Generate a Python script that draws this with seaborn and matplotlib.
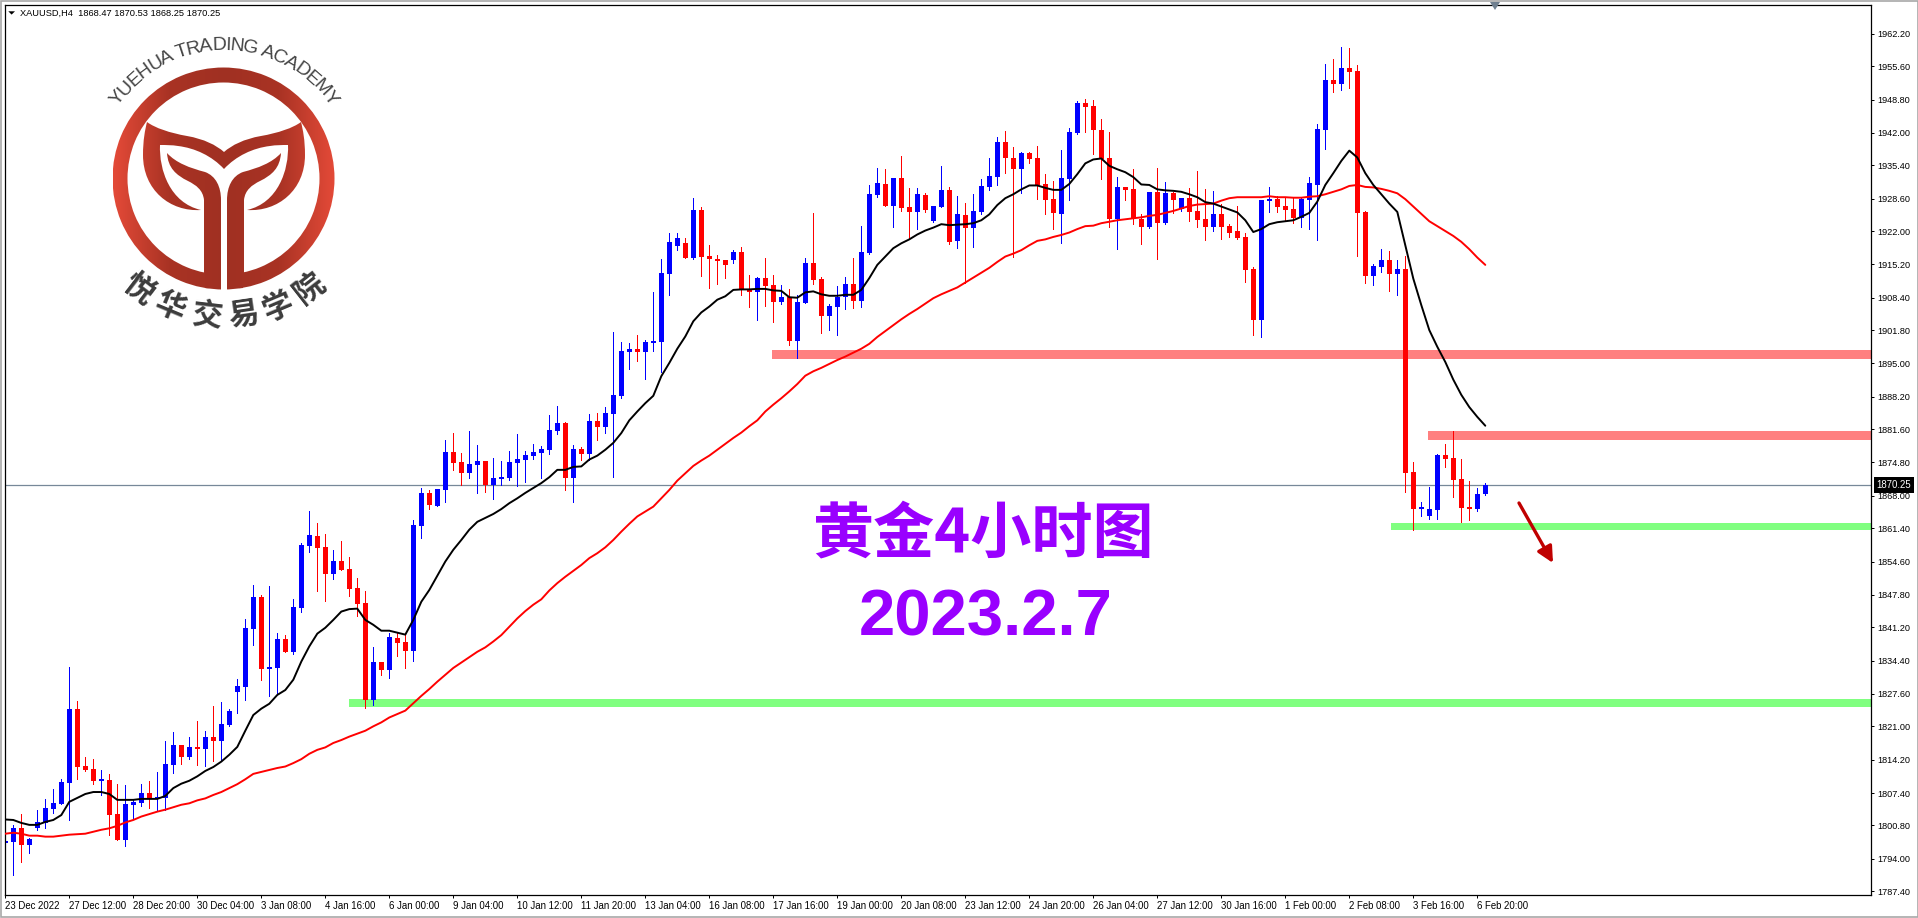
import numpy as np
import pandas as pd
import seaborn as sns
import matplotlib
matplotlib.use('Agg')
import matplotlib.pyplot as plt
from matplotlib.colors import LinearSegmentedColormap
from matplotlib.patches import PathPatch, Polygon, Rectangle, Wedge
from matplotlib.path import Path
from matplotlib.textpath import TextToPath
from matplotlib.font_manager import FontProperties

# XAUUSD H4 bars, prices
highs = [1799.4,1800.9,1803.1,1798.2,1804.0,1806.2,1808.2,1810.3,1833.1,1826.2,
         1814.8,1814.4,1812.1,1811.3,1809.3,1809.1,1806.0,1809.3,1809.9,1811.7,
         1818.0,1819.9,1817.2,1818.9,1822.1,1820.1,1825.2,1826.0,1824.6,1830.7,
         1842.9,1849.9,1847.8,1849.7,1840.1,1839.7,1847.0,1858.4,1865.0,1862.5,
         1860.3,1857.0,1858.8,1855.6,1851.3,1848.6,1837.2,1834.2,1840.1,1840.3,
         1839.7,1863.1,1869.6,1869.2,1869.4,1879.4,1880.9,1876.8,1881.3,1878.4,
         1875.2,1875.8,1875.2,1877.2,1880.7,1877.2,1878.6,1878.2,1884.5,1886.4,
         1883.1,1878.4,1878.0,1884.7,1884.9,1886.2,1901.5,1899.4,1899.2,1900.9,
         1899.8,1909.6,1916.4,1921.7,1921.5,1920.6,1928.8,1927.0,1919.2,1917.2,
         1916.0,1918.2,1918.8,1913.1,1912.7,1916.6,1913.1,1910.9,1910.2,1909.0,
         1916.6,1925.7,1912.7,1907.2,1910.7,1912.7,1916.6,1923.1,1931.3,1934.9,
         1934.6,1932.8,1937.3,1930.8,1930.8,1929.7,1927.1,1935.3,1931.0,1929.1,
         1927.7,1929.5,1932.6,1936.9,1941.2,1942.4,1939.1,1938.1,1938.1,1939.3,
         1933.6,1932.2,1938.5,1943.0,1948.5,1948.9,1948.7,1944.8,1942.2,1933.0,
         1931.0,1934.6,1925.5,1930.0,1934.8,1932.0,1930.0,1928.7,1930.8,1934.2,
         1930.6,1930.2,1927.5,1923.4,1927.1,1921.6,1914.7,1928.3,1931.0,1929.1,
         1928.7,1928.7,1928.7,1933.0,1943.8,1956.1,1957.1,1959.5,1959.3,1955.9,
         1926.1,1915.3,1918.3,1917.9,1916.1,1916.9,1875.0,1866.8,1869.9,1876.6,
         1878.6,1881.3,1875.6,1871.1,1869.6,1870.53]
body_top = [1797.7,1800.3,1800.3,1798.0,1801.5,1804.4,1805.4,1809.7,1824.6,1824.6,
            1812.9,1812.3,1810.3,1810.1,1803.1,1805.2,1805.6,1807.4,1807.4,1806.6,
            1813.3,1817.2,1817.2,1816.8,1816.8,1818.9,1818.9,1821.5,1824.2,1829.3,
            1841.1,1847.4,1847.4,1833.1,1838.8,1838.8,1845.4,1858.0,1860.1,1859.9,
            1857.6,1854.8,1854.8,1853.1,1849.2,1846.2,1834.2,1834.2,1839.3,1839.0,
            1838.2,1862.1,1868.6,1868.6,1869.4,1877.0,1877.0,1875.0,1874.5,1875.2,
            1875.2,1871.7,1871.9,1875.0,1875.6,1876.4,1877.0,1877.6,1881.5,1882.9,
            1882.9,1877.6,1877.6,1883.3,1883.3,1884.9,1888.6,1897.6,1898.0,1898.0,
            1899.4,1899.6,1913.5,1919.8,1920.6,1919.6,1926.2,1926.2,1917.0,1916.4,
            1916.0,1917.8,1917.8,1910.0,1912.5,1912.5,1910.9,1908.6,1908.6,1907.6,
            1915.5,1915.5,1912.3,1906.8,1908.6,1911.3,1911.3,1917.8,1929.6,1931.7,
            1931.6,1932.8,1932.8,1926.9,1929.5,1929.3,1927.1,1930.4,1930.4,1925.5,
            1925.3,1926.1,1931.2,1933.2,1940.2,1940.2,1936.9,1937.9,1937.9,1936.9,
            1931.6,1928.5,1932.8,1942.2,1948.1,1948.1,1947.5,1942.6,1936.9,1931.0,
            1931.0,1930.6,1924.4,1930.0,1930.0,1929.7,1929.7,1928.7,1928.7,1926.1,
            1924.4,1925.5,1925.5,1923.0,1922.0,1920.8,1914.2,1928.3,1928.5,1928.5,
            1927.1,1926.5,1928.5,1931.8,1942.8,1952.8,1952.8,1955.2,1955.2,1954.6,
            1925.9,1914.9,1916.1,1916.1,1914.2,1914.2,1872.9,1865.8,1865.4,1876.4,
            1876.4,1875.8,1871.5,1865.8,1868.4,1870.25]
body_bot = [1797.2,1797.4,1796.8,1796.8,1800.3,1801.3,1804.2,1805.2,1809.5,1812.7,
            1812.1,1809.9,1809.9,1802.9,1797.8,1797.8,1805.0,1805.4,1806.2,1806.2,
            1806.4,1813.1,1814.8,1814.8,1816.4,1816.4,1818.0,1818.0,1821.3,1828.0,
            1829.1,1840.9,1832.7,1832.7,1832.9,1836.2,1836.2,1845.2,1857.8,1857.4,
            1852.1,1852.1,1852.9,1849.0,1846.0,1826.4,1826.4,1832.5,1832.5,1838.0,
            1836.4,1836.4,1861.9,1866.2,1866.0,1869.2,1874.7,1872.7,1872.7,1874.3,
            1870.3,1870.3,1871.5,1871.7,1874.7,1875.4,1876.2,1876.8,1877.4,1881.3,
            1871.7,1871.7,1876.6,1876.6,1882.1,1882.1,1884.7,1888.4,1897.4,1897.4,
            1897.4,1899.2,1899.4,1913.3,1919.0,1916.6,1916.6,1916.8,1916.2,1915.8,
            1915.1,1916.0,1910.0,1909.6,1909.6,1910.7,1907.6,1907.6,1899.6,1899.6,
            1907.4,1912.1,1904.7,1904.7,1906.6,1908.6,1907.8,1907.8,1917.6,1929.4,
            1927.1,1927.1,1926.7,1925.9,1925.9,1926.3,1924.0,1926.9,1919.8,1920.0,
            1922.6,1922.6,1925.9,1931.0,1933.0,1936.9,1934.6,1934.6,1936.7,1931.4,
            1928.3,1925.7,1925.5,1932.6,1942.0,1947.3,1942.6,1936.7,1924.4,1924.4,
            1930.4,1924.4,1922.8,1922.8,1923.6,1923.6,1928.3,1926.5,1925.9,1924.2,
            1922.8,1922.8,1922.8,1921.6,1920.6,1914.0,1903.8,1903.8,1928.1,1926.9,
            1926.3,1924.6,1924.6,1928.3,1931.4,1942.6,1952.0,1952.0,1954.4,1925.7,
            1912.8,1912.8,1914.7,1913.2,1913.2,1872.7,1865.4,1865.4,1863.9,1865.2,
            1875.6,1871.3,1865.6,1865.4,1865.4,1868.47]
lows = [1794.8,1790.7,1793.4,1795.2,1799.9,1800.3,1803.3,1805.2,1801.9,1810.3,
        1811.9,1809.3,1807.0,1798.9,1797.8,1796.6,1802.3,1804.8,1804.4,1804.0,
        1804.0,1811.5,1813.3,1814.4,1813.1,1812.9,1814.0,1814.0,1821.1,1823.7,
        1826.4,1837.6,1830.5,1827.2,1827.8,1836.2,1835.8,1844.4,1856.6,1848.6,
        1846.6,1851.1,1852.9,1847.6,1843.5,1824.8,1825.4,1831.5,1830.9,1835.4,
        1832.9,1834.4,1859.4,1865.4,1866.0,1866.8,1873.3,1870.3,1871.7,1868.6,
        1868.8,1867.4,1870.3,1871.3,1870.1,1870.9,1875.6,1871.6,1876.6,1880.7,
        1869.2,1866.8,1875.4,1875.4,1879.4,1880.9,1871.9,1888.0,1893.9,1895.6,
        1891.9,1897.6,1893.3,1909.0,1918.2,1916.6,1916.4,1912.9,1910.4,1911.1,
        1912.5,1915.5,1909.0,1906.6,1903.9,1906.8,1903.5,1907.2,1898.8,1896.2,
        1907.4,1911.1,1901.3,1901.9,1900.7,1906.2,1906.4,1906.6,1917.4,1929.0,
        1927.1,1922.8,1926.1,1920.4,1922.4,1925.9,1923.8,1926.9,1919.3,1918.5,
        1911.4,1918.7,1925.5,1930.4,1931.4,1933.8,1916.7,1929.7,1935.9,1928.5,
        1925.5,1922.4,1919.5,1928.3,1941.8,1942.2,1937.7,1932.6,1922.8,1918.3,
        1928.3,1923.4,1919.3,1922.6,1916.3,1923.4,1925.7,1926.1,1924.0,1922.8,
        1920.2,1922.0,1920.4,1920.8,1920.4,1911.6,1900.8,1900.4,1925.9,1925.9,
        1924.2,1923.6,1922.8,1922.4,1920.2,1938.7,1950.4,1950.8,1951.2,1916.9,
        1911.4,1911.0,1913.6,1909.8,1908.9,1868.8,1861.1,1863.9,1863.3,1863.3,
        1873.9,1867.8,1862.7,1863.1,1865.0,1868.25]
# u = close above open (blue), d = close below open (red)
direction = ('uuduuuuuud' 'ddudduuudu' 'uudududuuu' 'uuduuduuud' 'duddddudud'
             'duuduudduu' 'duuuuuuuuu' 'dududuuuud' 'uuuuududdd' 'dudduddudu'
             'udduuuduuu' 'dudduduudu' 'duuuuddudd' 'dduuuddddu' 'dddudududd'
             'duddddduud' 'dduuuududd' 'duududduuu' 'dddduu')

ma_fast = [1802.0,1801.9,1801.3,1800.9,1800.9,1801.5,1801.9,1802.9,1805.6,1806.4,
           1807.2,1807.6,1807.6,1807.2,1806.0,1806.0,1806.0,1806.2,1806.2,1806.2,
           1806.8,1808.4,1809.3,1809.9,1810.8,1811.9,1812.7,1813.8,1815.2,1816.8,
           1820.1,1823.3,1824.6,1825.6,1827.4,1828.4,1830.5,1834.2,1837.3,1839.9,
           1841.1,1842.7,1844.4,1844.9,1845.0,1842.7,1841.7,1840.5,1840.5,1840.1,
           1839.7,1842.7,1846.4,1848.8,1851.7,1854.6,1857.0,1859.0,1861.1,1862.7,
           1863.5,1864.3,1865.3,1866.5,1867.5,1868.6,1869.6,1870.6,1871.8,1873.3,
           1873.3,1873.9,1874.0,1875.4,1876.2,1877.4,1878.8,1880.8,1883.4,1885.2,
           1886.9,1888.4,1892.4,1895.1,1898.0,1900.5,1903.6,1905.4,1906.6,1908.0,
           1908.7,1910.0,1910.1,1910.1,1910.2,1910.2,1909.9,1909.8,1908.5,1908.4,
           1909.5,1909.7,1909.1,1908.8,1908.8,1909.0,1909.0,1910.0,1912.4,1915.1,
           1916.8,1918.5,1919.5,1920.3,1921.3,1922.1,1922.7,1923.4,1923.2,1923.3,
           1923.4,1923.6,1924.2,1925.4,1927.3,1928.7,1929.5,1930.5,1931.3,1931.3,
           1930.8,1930.4,1930.4,1931.6,1933.6,1935.8,1936.6,1936.8,1935.3,1934.6,
           1934.0,1933.0,1931.5,1931.4,1930.5,1930.3,1930.2,1930.0,1929.5,1928.9,
           1927.9,1927.6,1927.0,1926.4,1925.8,1924.2,1921.8,1922.4,1923.4,1923.8,
           1924.0,1924.2,1924.9,1925.7,1928.0,1931.4,1933.8,1936.3,1938.4,1937.0,
           1933.8,1931.4,1929.5,1927.6,1925.9,1919.1,1912.3,1906.9,1901.8,1898.4,
           1895.3,1891.7,1888.6,1886.1,1884.1,1882.3]
ma_slow = [1799.1,1799.3,1799.1,1798.7,1798.7,1798.5,1798.5,1798.7,1798.9,1799.0,
           1799.1,1799.5,1799.9,1800.2,1800.7,1801.4,1801.9,1802.6,1803.1,1803.6,
           1804.0,1804.5,1805.0,1805.3,1805.9,1806.3,1807.0,1807.6,1808.4,1809.2,
           1810.2,1811.3,1811.7,1812.1,1812.5,1812.8,1813.5,1814.3,1815.4,1816.2,
           1816.7,1817.6,1818.2,1818.9,1819.5,1820.1,1821.0,1821.8,1822.8,1823.5,
           1824.2,1825.7,1827.2,1828.6,1830.1,1831.5,1832.9,1834.0,1835.1,1836.2,
           1837.1,1838.3,1839.6,1841.3,1843.0,1844.5,1845.8,1846.9,1848.7,1850.2,
           1851.5,1852.7,1853.9,1855.3,1856.3,1857.5,1859.0,1860.7,1862.3,1863.8,
           1864.8,1865.8,1867.5,1869.2,1871.1,1872.6,1874.1,1875.2,1876.2,1877.4,
           1878.6,1879.8,1880.9,1882.2,1883.4,1885.2,1886.6,1887.9,1889.3,1890.8,
           1892.5,1893.4,1894.1,1894.9,1895.7,1896.4,1897.2,1898.0,1899.0,1900.4,
           1901.6,1902.8,1904.0,1905.1,1906.1,1907.2,1908.3,1909.1,1909.8,1910.5,
           1911.5,1912.5,1913.5,1914.5,1915.7,1916.8,1917.4,1918.1,1919.1,1920.0,
           1920.3,1920.8,1921.2,1921.7,1922.4,1923.0,1923.1,1923.6,1923.9,1924.2,
           1924.4,1924.6,1924.8,1925.1,1925.3,1925.7,1926.1,1926.6,1927.1,1927.4,
           1927.5,1927.6,1928.2,1928.7,1928.9,1928.9,1928.9,1928.9,1929.1,1928.9,
           1928.9,1928.8,1928.8,1929.0,1929.1,1929.5,1930.0,1930.5,1931.2,1931.4,
           1931.0,1930.9,1930.6,1930.2,1929.7,1928.5,1927.0,1925.5,1924.0,1923.0,
           1922.0,1921.0,1919.8,1918.3,1916.6,1915.1]

price_labels = ['1962.20','1955.60','1948.80','1942.00','1935.40','1928.60','1922.00',
                '1915.20','1908.40','1901.80','1895.00','1888.20','1881.60','1874.80',
                '1868.00','1861.40','1854.60','1847.80','1841.20','1834.40','1827.60',
                '1821.00','1814.20','1807.40','1800.80','1794.00','1787.40']
time_labels = ['23 Dec 2022','27 Dec 12:00','28 Dec 20:00','30 Dec 04:00','3 Jan 08:00',
               '4 Jan 16:00','6 Jan 00:00','9 Jan 04:00','10 Jan 12:00','11 Jan 20:00',
               '13 Jan 04:00','16 Jan 08:00','17 Jan 16:00','19 Jan 00:00','20 Jan 08:00',
               '23 Jan 12:00','24 Jan 20:00','26 Jan 04:00','27 Jan 12:00','30 Jan 16:00',
               '1 Feb 00:00','2 Feb 08:00','3 Feb 16:00','6 Feb 20:00']
last_price = 1870.25

# horizontal levels drawn on the chart: first bar, low, high, colour
zone_start = [95.8, 177.8, 173.2, 43.0]
zone_low = [1895.9, 1879.4, 1861.1, 1825.0]
zone_high = [1897.8, 1881.25, 1862.5, 1826.6]
zone_color = ['#ff8080', '#ff8080', '#80ff80', '#80ff80']

up = np.array([c == 'u' for c in direction])
df = pd.DataFrame({'bar': np.arange(len(highs)), 'high': highs, 'low': lows,
                   'top': body_top, 'bot': body_bot, 'fast': ma_fast, 'slow': ma_slow})
df['color'] = np.where(up, '#0000ff', '#ff0000')

sns.set_style('white')
plt.rcParams['font.family'] = ['Liberation Sans', 'DejaVu Sans']

W, H = 1918, 918
fig = plt.figure(figsize=(W / 100, H / 100), dpi=100, facecolor='white')
ax = fig.add_axes([4.5 / W, 1 - 895 / H, 1866 / W, 890.5 / H])
x_max = 233.15
ax.set_xlim(-0.1, x_max)
ax.set_ylim(1786.6, 1968.2)

for s, lo, hi, c in zip(zone_start, zone_low, zone_high, zone_color):
    ax.fill_between([s, x_max], lo, hi, color=c, lw=0, zorder=1, antialiased=False)
ax.axhline(last_price, color='#778899', lw=0.9, zorder=1.5)

ax.vlines(df['bar'], df['low'], df['high'], colors=df['color'], lw=0.72,
          zorder=2, antialiased=False)
ax.bar(df['bar'], df['top'] - df['bot'], bottom=df['bot'], width=0.625,
       color=df['color'], lw=0, zorder=2.1, antialiased=False)

sns.lineplot(data=df, x='bar', y='slow', color='#ff0000', linewidth=1.4, ax=ax,
             errorbar=None, legend=False, zorder=3)
sns.lineplot(data=df, x='bar', y='fast', color='#000000', linewidth=1.4, ax=ax,
             errorbar=None, legend=False, zorder=3.1)
ax.set_xlabel('')
ax.set_ylabel('')

ax.yaxis.tick_right()
ax.set_yticks([float(p) for p in price_labels], price_labels)
ax.set_xticks(np.arange(len(time_labels)) * 8, time_labels)
for lab in ax.get_xticklabels():
    lab.set_ha('left')
ax.tick_params(axis='y', direction='out', length=2.4, width=0.72, pad=2.4,
               labelsize=6.6, colors='black', right=True)
ax.tick_params(axis='x', direction='out', length=2.4, width=0.72, pad=1.8,
               labelsize=6.9, colors='black', bottom=True)
for sp in ax.spines.values():
    sp.set_visible(True)
    sp.set_color('black')
    sp.set_linewidth(0.9)

ax.text(1.0032, last_price, '1870.25', transform=ax.get_yaxis_transform(), color='white',
        fontsize=6.9, va='center', ha='left', zorder=6,
        bbox=dict(boxstyle='square,pad=0.3', fc='black', ec='black', lw=0))

# overlay in picture pixels for logo, captions, arrow and window frame
ov = fig.add_axes([0, 0, 1, 1], facecolor='none')
ov.set_xlim(0, W)
ov.set_ylim(H, 0)
ov.axis('off')
ov.add_patch(Rectangle((0.5, 0.5), W - 1, H - 2, fill=False, ec='#a8a8a8', lw=1.2))

ov.add_patch(Polygon([(8.3, 11.3), (15, 11.3), (11.6, 14.6)], fc='black', ec='none'))
ov.add_patch(Polygon([(1490, 2), (1500, 2), (1495, 10)], fc='#708090', ec='none', zorder=7))
ov.text(20, 13, 'XAUUSD,H4  1868.47 1870.53 1868.25 1870.25', fontsize=6.65,
        color='black', va='center', ha='left')

ov.text(983, 535, '黄金4小时图', color='#9900ff', fontsize=44, fontweight='bold',
        ha='center', va='center', family=['Noto Sans CJK SC', 'DejaVu Sans'])
ov.text(986, 619, '2023.2.7', color='#9900ff', fontsize=47, fontweight='bold',
        ha='center', va='center', family='Liberation Sans')

ov.annotate('', xy=(1553, 563), xytext=(1519, 503),
            arrowprops=dict(arrowstyle='-|>', color='#c00000', lw=2.4,
                            mutation_scale=24, shrinkA=0, shrinkB=0))

# logo: ring and leaves filled from one horizontal gradient
cx, cy = 223.5, 178.5
grad_cmap = LinearSegmentedColormap.from_list(
    'logo', [(0, '#e44a38'), (0.25, '#a93324'), (0.5, '#a03022'), (0.75, '#a93324'), (1, '#e44a38')])
M, L, C = Path.MOVETO, Path.LINETO, Path.CURVE4
band_v = [(147, 122), (155, 128), (170, 133), (187, 136), (204, 139), (216, 145), (224, 152),
          (224, 169), (212, 156), (195, 148), (178, 146), (172, 145), (166, 145), (160, 145),
          (159, 170), (170, 203), (201, 210), (170, 212), (143, 190), (143, 155), (143, 140), (145, 130), (147, 122)]
band_c = [M, C, C, C, C, C, C, L, C, C, C, C, C, C, C, C, C, C, C, C, C, C, C]
stem_v = [(167, 153), (176, 163), (190, 168), (205, 172), (216, 176), (221, 187), (221, 200),
          (221, 281), (218, 285), (212, 289), (205, 288), (204, 272), (204, 200),
          (203, 190), (196, 185), (188, 181), (176, 175), (168, 168), (167, 153)]
stem_c = [M, C, C, C, C, C, C, L, C, C, C, L, L, C, C, C, C, C, C]
shapes = [Wedge((cx, cy), 111, 0, 360, width=15).get_path()]
for v, c in [(band_v, band_c), (stem_v, stem_c)]:
    v = np.array(v, dtype=float)
    shapes.append(Path(v, c))
    mirrored = v.copy()
    mirrored[:, 0] = 2 * 224 - mirrored[:, 0]
    shapes.append(Path(mirrored, c))
gradient = np.linspace(0, 1, 256).reshape(1, -1)
for shape in shapes:
    im = ov.imshow(gradient, cmap=grad_cmap, extent=(cx - 111, cx + 111, 300, 60),
                   aspect='auto', zorder=5, interpolation='bilinear')
    clip = PathPatch(shape, transform=ov.transData)
    im.set_clip_path(clip)
ov.set_xlim(0, W)
ov.set_ylim(H, 0)
ov.add_patch(Rectangle((221, 262), 6, 30, fc='white', ec='none', zorder=5.5))

# curved logo lettering
logo_text = 'YUEHUA TRADING ACADEMY'
prop = FontProperties(family='Liberation Sans', size=14)
ttp = TextToPath()
adv = [ttp.get_text_width_height_descent(ch if ch != ' ' else 'i', prop, False)[0] for ch in logo_text]
centers = np.cumsum(adv) - np.array(adv) / 2
centers = (centers - centers[0]) / (centers[-1] - centers[0])
for ch, t in zip(logo_text, centers):
    ang = np.deg2rad(-52.8 + 106 * t)
    ov.text(cx + 133 * np.sin(ang), cy - 133 * np.cos(ang), ch, fontsize=14, color='#454545',
            rotation=-np.rad2deg(ang), rotation_mode='anchor', ha='center', va='center', zorder=6)
logo_cn = '悦华交易学院'
logo_cn_ang = [-37.4, -22.6, -6.8, 8.3, 22.8, 38.0]
for ch, a in zip(logo_cn, logo_cn_ang):
    ang = np.deg2rad(a)
    ov.text(cx + 139 * np.sin(ang), cy + 139 * np.cos(ang), ch, fontsize=22, color='#3c3c3c',
            fontweight='bold', rotation=a, rotation_mode='anchor', ha='center', va='center',
            family=['Noto Sans CJK SC', 'DejaVu Sans'], zorder=6)

fig.savefig('out.png', dpi=100)
